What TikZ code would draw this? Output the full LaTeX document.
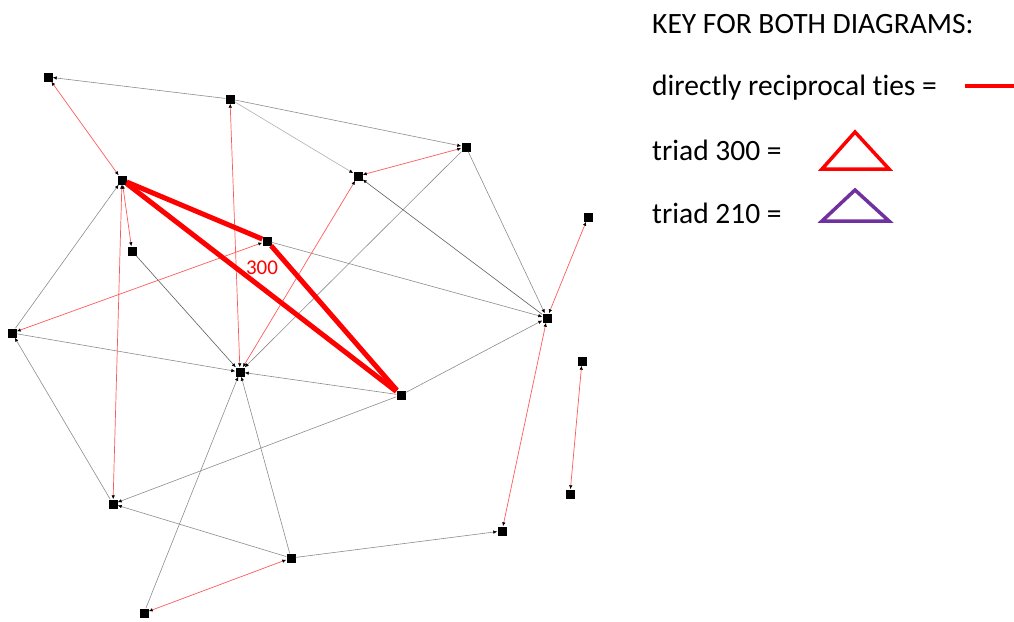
\documentclass[tikz,border=0pt]{standalone}
\usepackage{fontspec}
\setmainfont{Carlito}[Ligatures={NoCommon}]
\usetikzlibrary{arrows.meta}
\definecolor{tiegray}{HTML}{8C8C8C}
\definecolor{tiered}{HTML}{FF5A5A}
\definecolor{triadpurple}{HTML}{7030A0}
\tikzset{
  actor/.style={rectangle,fill=black,minimum size=9pt,inner sep=0pt},
  tie/.style={draw=tiegray,line width=0.6pt,-{Latex[length=4pt,width=3.5pt,color=black]}},
  recip/.style={draw=tiered,line width=0.7pt,{Latex[length=4pt,width=3.5pt,color=black]}-{Latex[length=4pt,width=3.5pt,color=black]}},
  triad/.style={draw=red,line width=5pt},
  keytext/.style={anchor=base west,inner sep=0pt,font=\fontsize{29.5}{34}\selectfont}
}
\begin{document}
\begin{tikzpicture}[x=1pt,y=-1pt]
\useasboundingbox (0,0) rectangle (1014,621);
\node[actor] (a) at (48,77) {};
\node[actor] (b) at (230,99) {};
\node[actor] (c) at (466,147) {};
\node[actor] (d) at (358,176) {};
\node[actor] (e) at (122,180) {};
\node[actor] (f) at (588,217) {};
\node[actor] (g) at (132,251) {};
\node[actor] (h) at (267,241) {};
\node[actor] (i) at (12,333) {};
\node[actor] (j) at (547,318) {};
\node[actor] (k) at (240,372) {};
\node[actor] (l) at (582,361) {};
\node[actor] (m) at (401,395) {};
\node[actor] (n) at (570,494) {};
\node[actor] (o) at (113,504) {};
\node[actor] (p) at (502,531) {};
\node[actor] (q) at (291,558) {};
\node[actor] (r) at (144,613) {};
% one-way ties
\draw[tie] (b) -- (a);
\draw[tie] (b) -- (c);
\draw[tie,draw=tiegray!70] (b) -- (d);
\draw[tie] (c) -- (k);
\draw[tie] (c) -- (j);
\draw[tie,draw=tiegray!140] (j) -- (d);
\draw[tie] (h) -- (j);
\draw[tie] (m) -- (j);
\draw[tie] (i) -- (e);
\draw[tie,draw=tiegray!140] (g) -- (k);
\draw[tie] (i) -- (k);
\draw[tie] (m) -- (k);
\draw[tie] (o) -- (i);
\draw[tie] (m) -- (o);
\draw[tie] (q) -- (o);
\draw[tie] (q) -- (k);
\draw[tie] (r) -- (k);
\draw[tie] (q) -- (p);
% reciprocal ties
\draw[recip] (e) -- (a);
\draw[recip] (c) -- (d);
\draw[recip] (e) -- (g);
\draw[recip] (e) -- (o);
\draw[recip] (b) -- (k);
\draw[recip] (d) -- (k);
\draw[recip] (i) -- (h);
\draw[recip] (f) -- (j);
\draw[recip] (j) -- (p);
\draw[recip] (l) -- (n);
\draw[recip] (q) -- (r);
% triad 300
\draw[triad] (e) -- (h);
\draw[triad] (h) -- (m);
\draw[triad] (m) -- (e);
\node[text=red,font=\fontsize{21}{24}\selectfont] (lbl) at (262,268) {300};
% key
\node[keytext] (keyhead) at (652,33) {KEY FOR BOTH DIAGRAMS:};
\node[keytext] (keyrecip) at (652,95) {directly reciprocal ties =};
\node[keytext] (keythree) at (652,160) {triad 300 =};
\node[keytext] (keytwo) at (652,223) {triad 210 =};
\coordinate (lineL) at (965,86);
\coordinate (lineR) at (1014,86);
\draw[red,line width=4pt] (lineL) -- (lineR);
\draw[red,line width=3.5pt,line join=miter] (855,132) -- (889,169) -- (822,169) -- cycle;
\draw[triadpurple,line width=3.5pt,line join=miter] (855,190) -- (889,221) -- (822,221) -- cycle;
\end{tikzpicture}
\end{document}
